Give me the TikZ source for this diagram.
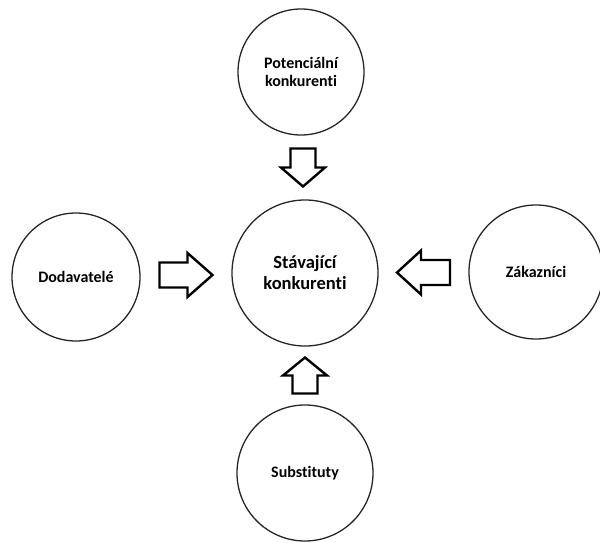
\documentclass[tikz,border=0pt]{standalone}
\usepackage{fontspec}
\setmainfont{Carlito}[Ligatures={NoCommon}]
\usepackage{tikz}
\usetikzlibrary{calc}
\tikzstyle{force} = [circle, draw=black!85, line width=1.3pt, inner sep=0pt, align=center, font=\bfseries\fontsize{16}{18}\selectfont]
\tikzstyle{core} = [force, minimum size=146pt, font=\bfseries\fontsize{18.5}{21}\selectfont]
\tikzstyle{block} = [line width=2.4pt, draw=black, fill=white, line join=miter]
% fat arrow: centre, direction, length, head length
\newcommand{\fatarrow}[4]{\draw [block, shift={(#1)}, rotate=#2] (-#3/2,-12.5) -- (#3/2-#4,-12.5) -- (#3/2-#4,-22) -- (#3/2,0) -- (#3/2-#4,22) -- (#3/2-#4,12.5) -- (-#3/2,12.5) -- cycle;}

\begin{document}
\begin{tikzpicture}[x=1pt, y=1pt]
	\useasboundingbox (0,0) rectangle (600,542);
	\node (stav) [core] at (305,269) {Stávající\\konkurenti};
	\node (pot) [force, minimum size=126pt] at (301,470) {Potenciální\\konkurenti};
	\node (dod) [force, minimum size=128pt] at (76,265) {Dodavatelé};
	\node (zak) [force, minimum size=134pt] at (536,270) {Zákazníci};
	\node (sub) [force, minimum size=136pt] at (305,69) {Substituty};
	\fatarrow{$(pot.south)!0.5!(stav.north)$}{-90}{38}{19}
	\fatarrow{$(dod.east)!0.5!(stav.west)$}{0}{53}{25}
	\fatarrow{$(zak.west)!0.5!(stav.east)$}{180}{53}{24}
	\fatarrow{$(sub.north)!0.5!(stav.south)$}{90}{36}{18}
\end{tikzpicture}
\end{document}
